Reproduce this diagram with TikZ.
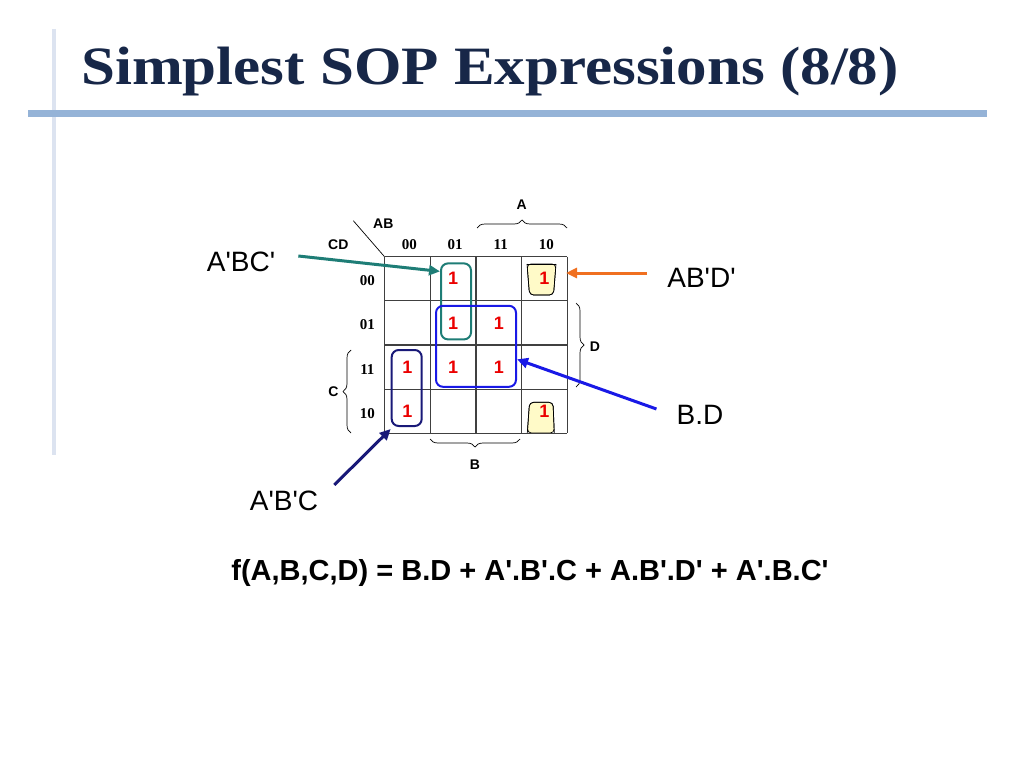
\documentclass[tikz,border=0pt]{standalone}
\usepackage{fontspec}
\setmainfont{Liberation Serif}
\setsansfont{Liberation Sans}
\usetikzlibrary{positioning, arrows.meta, decorations.pathreplacing, calc}
\definecolor{titleblue}{RGB}{23,39,72}
\definecolor{rulebar}{RGB}{149,179,215}
\definecolor{sidebar}{RGB}{220,227,240}
\definecolor{grpteal}{RGB}{30,125,118}
\definecolor{grpblue}{RGB}{25,25,230}
\definecolor{grpnavy}{RGB}{25,25,120}
\definecolor{arrorange}{RGB}{240,112,32}
\definecolor{cellfill}{RGB}{255,250,200}
\definecolor{onered}{RGB}{235,0,0}
\newcommand{\pr}{\textquotesingle}
\tikzset{
  one/.style={
    font=\sffamily\bfseries\fontsize{18}{18}\selectfont,
    text=onered,
    inner sep=0pt
  },
  bits/.style={
    font=\bfseries\fontsize{15}{15}\selectfont,
    inner sep=0pt
  },
  varname/.style={
    font=\sffamily\bfseries\fontsize{14}{14}\selectfont,
    inner sep=0pt
  },
  term/.style={
    font=\sffamily\fontsize{28}{28}\selectfont,
    inner sep=0pt
  },
  group/.style={
    draw=#1,
    line width=2pt,
    rounded corners=7pt,
    inner sep=0pt
  },
  gridline/.style={
    draw=black!75,
    line width=1.2pt
  },
  loopcell/.style={
    fill=cellfill,
    draw=black,
    line width=0.7pt,
    rounded corners=4pt
  },
  varbrace/.style={
    decorate,
    decoration={brace, amplitude=8pt},
    line width=0.7pt
  },
  pointer/.style={
    line width=3pt,
    -{Triangle[length=11pt, width=10pt]}
  }
}

\begin{document}
\begin{tikzpicture}[x=1pt, y=-1pt]
        \useasboundingbox (0,0) rectangle (1024,768);
        % slide frame
        \draw[sidebar, line width=4pt] (53.5,29) -- (53.5,455);
        \draw[rulebar, line width=7pt] (28,113.7) -- (987,113.7);
        \node[anchor=base west, inner sep=0pt, text=titleblue, font=\bfseries\fontsize{54}{54}\selectfont] (title) at (81,84) {\scalebox{1.13}[1]{Simplest SOP Expressions (8/8)}};

        % K-map cells
        \foreach \c in {0,...,3}
          \foreach \r in {0,...,3}
            \coordinate (cell-\c-\r) at ({384.5+45.7*(\c+0.5)},{256.7+44.15*(\r+0.5)});
        \fill[loopcell] (527,264) -- (529.5,295) -- (553.5,295) -- (556,264) -- cycle;
        \fill[loopcell] (527.3,433) -- (529.5,402.3) -- (553,402.3) -- (554.3,433) -- cycle;
        \draw[loopcell, fill=none, rounded corners=0pt] (527,264) -- (556,264);
        \draw[loopcell, fill=none] (527,264) -- (529.5,295) -- (553.5,295) -- (556,264);
        \draw[loopcell, fill=none] (527.3,433) -- (529.5,402.3) -- (553,402.3) -- (554.3,433);
        \foreach \i in {0,...,4} {
          \draw[gridline] ({384.5+45.7*\i},256.7) -- ({384.5+45.7*\i},433.3);
          \draw[gridline] (384.5,{256.7+44.15*\i}) -- (567.3,{256.7+44.15*\i});
        }

        % axis labels
        \foreach \lab [count=\c from 0] in {00,01,11,10}
          \node[bits] (col-\c) at ($(cell-\c-0)+(2,-34)$) {\lab};
        \foreach \lab [count=\r from 0] in {00,01,11,10}
          \node[bits] (row-\r) at ($(cell-0-\r)+(-40,2)$) {\lab};
        \draw[line width=0.7pt] (353.3,220.7) -- (384.5,256.7);
        \node[varname] (ab) at (383.3,223.3) {AB};
        \node[varname] (cd) at (338.3,245) {CD};

        % variable braces
        \draw[varbrace] (477,228) -- (567,228);
        \node[varname] (va) at (521.7,205) {A};
        \draw[varbrace] (520,439) -- (430,439);
        \node[varname] (vb) at (475,465) {B};
        \draw[varbrace] (351,433) -- (351,350);
        \node[varname] (vc) at (333.3,391.7) {C};
        \draw[varbrace] (576,303) -- (576,387);
        \node[varname] (vd) at (595,347) {D};

        % ones
        \foreach \c/\r in {1/0, 3/0, 1/1, 2/1, 0/2, 1/2, 2/2, 0/3, 3/3}
          \node[one] (one-\c-\r) at (cell-\c-\r) {1};

        % groups
        \node[group=grpteal, minimum width=30pt, minimum height=76pt] (gBCn) at (456,301.4) {};
        \node[group=grpblue, minimum width=80pt, minimum height=81pt] (gBD) at (476,346.3) {};
        \node[group=grpnavy, minimum width=30pt, minimum height=76pt] (gBnC) at (406.7,388) {};
        \coordinate (cABD) at (566,273);

        % terms and pointers
        \node[term] (lblBCn) at (241,262) {A\pr BC\pr};
        \node[term] (lblABD) at (701.5,278) {AB\pr D\pr};
        \node[term] (lblBD) at (700,415) {B.D};
        \node[term] (lblBnC) at (284,501) {A\pr B\pr C};
        \draw[pointer, grpteal] ($(lblBCn.east)+(23,-6)$) -- ($(gBCn.north west)+(0,9)$);
        \draw[pointer, arrorange] ($(lblABD.west)+(-20,-5)$) -- (cABD);
        \draw[pointer, grpblue] ($(lblBD.west)+(-20,-6)$) -- ($(gBD.east)+(0,13)$);
        \draw[pointer, grpnavy] ($(lblBnC.north east)+(16,-6)$) -- ($(gBnC.south west)+(0,2)$);

        \node[font=\sffamily\bfseries\fontsize{29}{29}\selectfont, inner sep=0pt] (expr) at (530,573) {f(A,B,C,D) = B.D + A\pr.B\pr.C + A.B\pr.D\pr{} + A\pr.B.C\pr};
      \end{tikzpicture}
\end{document}
